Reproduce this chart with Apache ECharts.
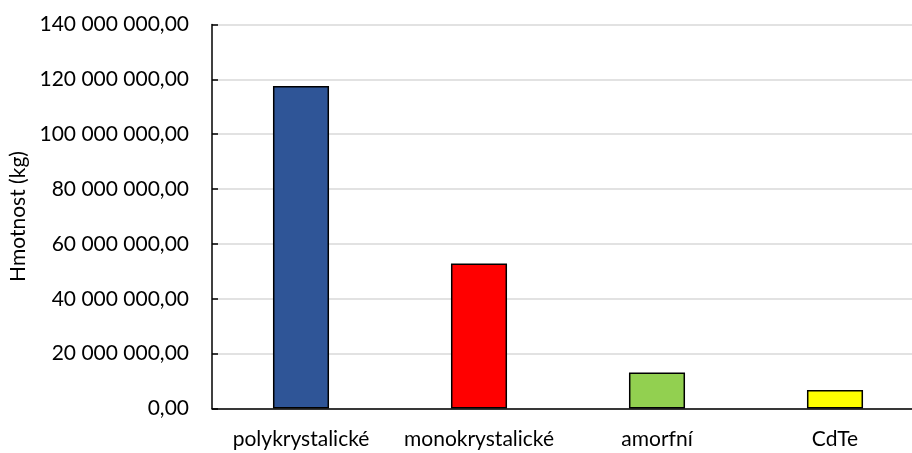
<!DOCTYPE html>
<html>
<head>
<meta charset="utf-8">
<script src="https://cdn.jsdelivr.net/npm/echarts@6/dist/echarts.min.js"></script>
<style>
html,body{margin:0;padding:0;background:#fff;}
#chart{width:912px;height:453px;}
</style>
</head>
<body>
<div id="chart"></div>
<script>
const categories = ['polykrystalické', 'monokrystalické', 'amorfní', 'CdTe'];
const values = [117600000, 52900000, 13100000, 6700000];
const colors = ['#2F5597', '#FF0000', '#92D050', '#FFFF00'];
const yAxisName = 'Hmotnost (kg)';

function fmt(v) {
  const s = Math.round(v).toString().replace(/\B(?=(\d{3})+(?!\d))/g, ' ');
  return s + ',00';
}

const chart = echarts.init(document.getElementById('chart'));
chart.setOption({
  animation: false,
  grid: { left: 212, top: 24.5, width: 712, height: 384, outerBoundsMode: 'none', containLabel: false },
  xAxis: {
    type: 'category',
    data: categories,
    axisLine: { lineStyle: { color: '#000', width: 1.5 } },
    axisTick: { show: false },
    axisLabel: { interval: 0, color: '#000', fontFamily: 'Lato', fontSize: 21, margin: 20 }
  },
  yAxis: {
    type: 'value',
    min: 0, max: 140000000, interval: 20000000,
    name: yAxisName,
    nameLocation: 'middle',
    nameGap: 180,
    nameTextStyle: { color: '#000', fontFamily: 'Lato', fontSize: 21 },
    axisLine: { show: true, lineStyle: { color: '#000', width: 1.5 } },
    axisTick: { show: true, inside: true, length: 6, lineStyle: { color: '#000', width: 1.5 } },
    splitLine: { lineStyle: { color: '#d9d9d9', width: 1.5 } },
    axisLabel: { color: '#000', fontFamily: 'Lato', fontSize: 21, margin: 23, formatter: fmt }
  },
  series: [{
    type: 'bar',
    barWidth: '31.5%',
    data: values.map((v, i) => ({ value: v, itemStyle: { color: colors[i] } })),
    itemStyle: { borderColor: '#000', borderWidth: 1.5 }
  }]
});
</script>
</body>
</html>
